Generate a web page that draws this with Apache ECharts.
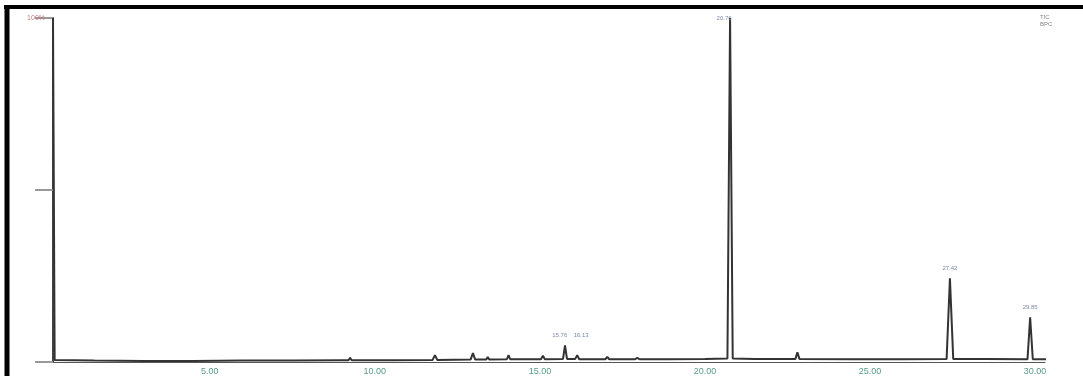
<!DOCTYPE html>
<html><head><meta charset="utf-8">
<script src="https://cdn.jsdelivr.net/npm/echarts@6/dist/echarts.min.js"></script>
<style>html,body{margin:0;padding:0;background:#fff;}#c{width:1083px;height:376px;}</style>
</head><body><div id="c"></div>
<script>
// retention times (min) and relative abundance (%)
const times = [0.25,0.30,1.5,3.0,4.5,6.0,7.5,9.0,9.2,9.25,9.3,10.5,11.75,11.82,11.89,12.9,12.97,13.04,13.37,13.42,13.47,14.0,14.05,14.1,15.03,15.09,15.15,15.7,15.76,15.82,16.07,16.13,16.19,16.98,17.04,17.1,17.45,17.5,17.55,17.88,17.95,18.02,18.74,18.8,18.86,20.0,20.68,20.76,20.84,21.5,22.74,22.8,22.86,24.5,26.0,27.32,27.42,27.52,28.5,29.77,29.85,29.93,30.4];
const abund = [100,0.6,0.4,0.3,0.3,0.4,0.4,0.5,0.5,1.2,0.5,0.5,0.6,2.0,0.6,0.7,2.6,0.7,0.7,1.4,0.7,0.8,2.0,0.8,0.8,1.8,0.8,0.9,4.8,0.9,0.9,2.0,0.8,0.8,1.5,0.8,0.8,1.3,0.8,0.8,1.2,0.8,0.8,1.1,0.8,0.9,1.0,100,1.0,0.9,0.9,2.8,0.9,0.8,0.8,0.9,24.3,0.9,0.9,0.8,13.0,0.8,0.8];
const peakLabels = [[15.6,4.8,'15.76'],[16.25,4.8,'16.13'],[20.76,100,'20.76'],[27.42,24.3,'27.42'],[29.85,13.0,'29.85']];
const xTicks = [5,10,15,20,25,30];

const chart = echarts.init(document.getElementById('c'));
chart.setOption({
  animation:false,
  grid:{left:53,right:38,top:18,bottom:7},
  xAxis:{type:'value',min:0.25,max:30.3,interval:5,
    axisLine:{show:true,lineStyle:{color:'#555',width:1}},
    axisTick:{show:false},splitLine:{show:false},
    axisLabel:{show:true,fontSize:9,color:'#5a9a8a',margin:5,
      customValues:xTicks,formatter:v=>v.toFixed(2)}},
  yAxis:{type:'value',min:0,max:100,interval:50,
    axisLine:{show:true,lineStyle:{color:'#444',width:2}},
    axisTick:{show:true,length:18,inside:false,lineStyle:{color:'#999',width:2}},
    splitLine:{show:false},
    axisLabel:{show:true,fontSize:7,color:'#c08080',margin:8,formatter:v=>v===100?'100%':''}},
  series:[{type:'line',symbol:'none',data:times.map((t,i)=>[t,abund[i]]),
    lineStyle:{color:'#333',width:2},
    markPoint:{symbol:'rect',symbolSize:0,
      label:{show:true,position:'top',fontSize:6,color:'#7a8aaa',offset:[0,-2],formatter:p=>p.name},
      data:peakLabels.map(p=>({coord:[p[0],p[1]],name:p[2],
        label:p[1]===100?{position:'inside',offset:[-6,0]}:undefined}))}
  }],
  graphic:[
    {type:'line',shape:{x1:4,y1:7,x2:1083,y2:7},style:{stroke:'#000',lineWidth:4}},
    {type:'line',shape:{x1:7,y1:5,x2:7,y2:376},style:{stroke:'#000',lineWidth:5}},
    {type:'text',left:1040,top:14,style:{text:'TIC\nBPC',fontSize:6,fill:'#888',lineHeight:7}}
  ]
});
</script></body></html>
